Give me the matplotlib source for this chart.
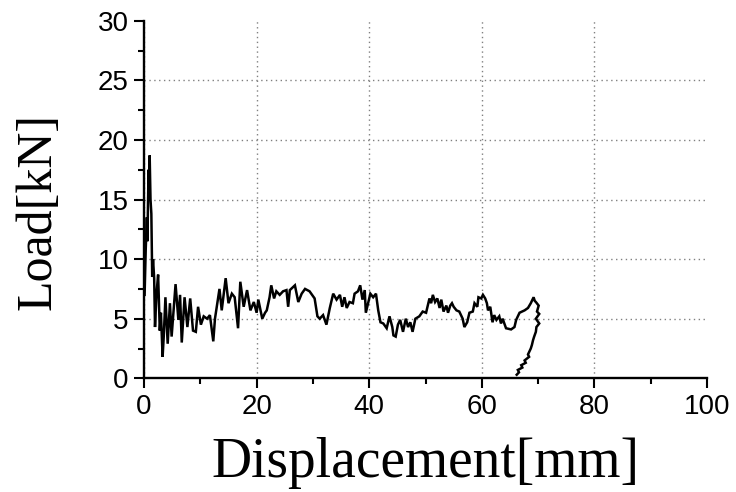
import matplotlib
matplotlib.use("Agg")
import matplotlib.pyplot as plt
from matplotlib.ticker import MultipleLocator

displacement = [0.1, 0.3, 0.5, 0.6, 0.8, 0.9, 1.0, 1.15, 1.3, 1.45, 1.6, 1.8, 1.95, 2.2, 2.5, 2.8,
                3.0, 3.3, 3.5, 3.8, 4.2, 4.6, 4.9, 5.3, 5.6, 6.1, 6.4, 6.7, 7.2, 7.7, 8.2, 8.7,
                9.2, 9.6, 10.1, 10.6, 11.2, 11.7, 12.3, 12.6, 13.4, 13.8, 14.5, 15.0, 15.6, 16.1,
                16.7, 17.1, 17.7, 18.3, 18.9, 19.5, 20.0, 20.3, 21.0, 21.5, 21.8, 22.3, 22.6,
                23.1, 23.5, 24.1, 24.7, 25.3, 25.6, 25.9, 26.8, 27.4, 28.0, 28.6, 29.4, 30.3,
                30.8, 31.2, 31.8, 32.4, 33.0, 33.6, 34.2, 34.8, 35.2, 35.6, 36.0, 36.5, 37.1,
                37.4, 38.0, 38.4, 38.8, 39.2, 39.4, 39.8, 40.2, 40.7, 41.2, 41.6, 42.0, 42.5,
                43.1, 43.6, 44.1, 44.3, 44.7, 45.1, 45.5, 46.0, 46.5, 46.9, 47.3, 47.7, 48.2,
                48.9, 49.5, 50.1, 50.7, 51.0, 51.3, 51.7, 52.1, 52.5, 52.8, 53.2, 53.7, 54.0,
                54.4, 54.7, 55.0, 55.5, 56.0, 56.6, 56.9, 57.4, 57.8, 58.4, 58.7, 59.2, 59.4,
                59.9, 60.2, 60.6, 60.9, 61.1, 61.5, 61.9, 62.2, 62.6, 63.1, 63.4, 63.7, 64.3,
                65.2, 65.8, 66.1, 66.7, 67.6, 68.2, 68.7, 69.2, 69.4, 69.6, 70.1, 69.8, 70.2,
                69.6, 70.2, 69.7, 69.6, 69.3, 69.1, 68.9, 68.7, 68.2, 68.4, 67.6, 67.8, 67.0,
                67.2, 66.4, 66.6, 66.2]
load = [7.0, 10.8, 13.5, 11.5, 17.5, 16.0, 18.7, 15.0, 13.8, 8.5, 10.0, 8.4, 4.3, 7.0, 8.7, 4.0,
        5.5, 1.8, 3.5, 6.8, 2.9, 6.3, 3.5, 6.0, 7.9, 4.9, 7.0, 3.0, 6.8, 4.3, 6.7, 4.0,
        3.9, 6.0, 4.5, 5.2, 5.0, 5.3, 3.1, 5.0, 7.5, 5.7, 8.4, 6.3, 7.1, 6.8,
        4.2, 8.1, 6.0, 7.4, 5.7, 6.4, 5.5, 6.6, 5.0, 5.5, 5.7, 6.8, 7.8,
        6.7, 7.3, 7.0, 7.3, 7.4, 6.0, 7.4, 7.8, 6.4, 7.1, 7.5, 7.3, 6.7,
        5.2, 5.0, 5.3, 4.5, 5.9, 7.1, 6.6, 7.0, 6.0, 6.8, 5.9, 6.4, 6.3,
        7.1, 7.3, 7.8, 6.6, 7.4, 5.5, 6.3, 7.1, 6.8, 7.1, 5.7, 4.7, 4.6,
        4.2, 5.2, 4.3, 3.6, 3.5, 4.5, 4.9, 3.9, 5.0, 4.3, 4.7, 3.9, 5.0,
        5.2, 5.6, 5.5, 6.7, 6.3, 7.0, 6.4, 6.7, 5.9, 6.6, 5.6, 6.1, 5.5,
        6.1, 6.3, 6.0, 5.7, 5.6, 5.0, 4.3, 4.7, 5.5, 5.6, 6.3, 6.0, 6.8,
        6.7, 7.0, 6.7, 6.3, 5.7, 6.0, 4.7, 5.3, 4.9, 5.2, 4.6, 5.0, 4.2,
        4.1, 4.3, 4.9, 5.5, 5.7, 5.9, 6.3, 6.8, 6.5, 6.4, 6.1, 5.6, 5.4,
        5.0, 4.6, 4.3, 3.9, 3.5, 3.2, 2.8, 2.5, 2.0, 1.8, 1.5, 1.3, 1.1,
        0.9, 0.7, 0.5, 0.3]

x_ticks = [0, 20, 40, 60, 80, 100]
y_ticks = [0, 5, 10, 15, 20, 25, 30]
x_label = "Displacement[mm]"
y_label = "Load[kN]"

W, H = 736, 492
fig = plt.figure(figsize=(W / 100, H / 100), dpi=100)
ax = fig.add_axes([0.1957, 0.2311, 0.7649, 0.7268])

ax.plot(displacement, load, color="black", linewidth=1.8, solid_joinstyle="miter")

ax.set_xlim(0, 100)
ax.set_ylim(0, 30)
ax.set_xticks(x_ticks)
ax.set_yticks(y_ticks)
ax.xaxis.set_minor_locator(MultipleLocator(10))
ax.yaxis.set_minor_locator(MultipleLocator(2.5))

ax.spines["top"].set_visible(False)
ax.spines["right"].set_visible(False)
ax.spines["left"].set_linewidth(1.7)
ax.spines["bottom"].set_linewidth(1.7)

ax.tick_params(which="major", direction="out", length=7, width=1.5, pad=4)
ax.tick_params(which="minor", direction="out", length=4, width=1.5)
for lab in ax.get_xticklabels() + ax.get_yticklabels():
    lab.set_fontfamily("Liberation Sans")
    lab.set_fontsize(20)

ax.grid(True, which="major", linestyle=(0, (1, 2.5)), color="#808080", linewidth=1.0)
ax.set_axisbelow(True)
# no grid lines on the outer edges (x=100, y=30)
xg = ax.xaxis.get_gridlines()
yg = ax.yaxis.get_gridlines()
xg[-1].set_visible(False)
yg[-1].set_visible(False)

fig.text(425 / W, 1 - 477 / H, x_label, fontfamily="Liberation Serif", fontsize=40,
         ha="center", va="baseline")
fig.text(38 / W, 1 - 212 / H, y_label, fontfamily="Liberation Serif", fontsize=36,
         ha="center", va="center", rotation=90)

fig.savefig("out.png", dpi=100)
